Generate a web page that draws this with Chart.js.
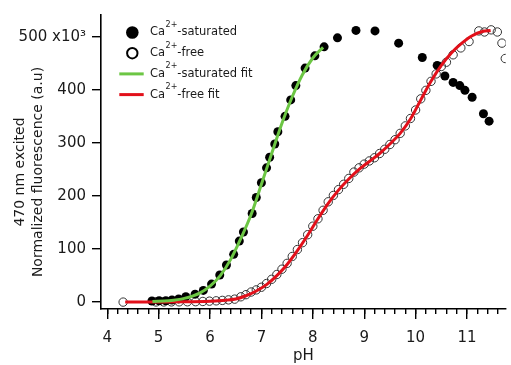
<!DOCTYPE html>
<html><head><meta charset="utf-8">
<script src="https://cdn.jsdelivr.net/npm/chart.js@4"></script>
<style>html,body{margin:0;padding:0;background:#fff;overflow:hidden}#wrap{width:511px;height:365px}</style>
</head><body><div id="wrap"><canvas id="c" width="511" height="365"></canvas></div>
<script>
// ---- data ----
const satPH  = [4.87,5.01,5.14,5.26,5.39,5.53,5.71,5.87,6.03,6.19,6.32,6.46,6.57,6.65,6.82,6.90,7.00,7.10,7.16,7.26,7.32,7.46,7.57,7.67,7.85,8.04,8.22,8.48,8.84,9.21,9.67,10.13,10.42,10.57,10.73,10.86,10.96,11.10,11.32,11.43];
const satVal = [2,2.5,2.5,4,6,10,15,22,34,51,70,90,115,132,167,197,225,253,273,298,321,350,381,408,441,464,481,498,512,511,488,461,446,426,414,408,399,386,355,341];

const freePH  = [4.31,4.95,5.10,5.25,5.40,5.56,5.72,5.86,5.99,6.12,6.24,6.36,6.48,6.60,6.70,6.80,6.90,7.00,7.10,7.20,7.30,7.40,7.50,7.60,7.70,7.80,7.90,8.00,8.10,8.20,8.30,8.40,8.50,8.60,8.70,8.80,8.90,9.00,9.10,9.20,9.30,9.40,9.50,9.60,9.70,9.80,9.90,10.00,10.10,10.20,10.30,10.40,10.50,10.60,10.73,10.88,11.04,11.23,11.34,11.47,11.59,11.68,11.745];
const freeVal = [0,0.3,0.3,0.4,0.5,0.6,0.8,1.2,1.8,2.4,3.2,4.2,5.6,10,14,19,23,28,35,43,52,62,73,86,99,112,127,143,157,173,189,201,212,222,233,245,253,260,266,272,280,288,297,306,318,332,346,362,383,399,416,430,444,452,466,479,491,511,509,513,509,488,459];

const satFitPH  = [4.88,5.2,5.5,5.8,6.0,6.2,6.4,6.6,6.8,7.0,7.2,7.4,7.6,7.8,8.0,8.2];
const satFitVal = [1,2.5,7,17,30,50,80,120,165,222,280,337,387,429,460,480];

const freeFitPH  = [4.35,5.0,5.5,6.0,6.3,6.5,6.7,6.9,7.1,7.3,7.5,7.7,7.9,8.1,8.3,8.5,8.7,8.9,9.1,9.3,9.5,9.7,9.9,10.1,10.3,10.5,10.7,10.9,11.1,11.3,11.46];
const freeFitVal = [0,0.2,0.6,1.8,3.5,6,12,21,33,50,71,97,126,157,186,211,232,250,265,280,298,318,345,381,416,446,470,488,502,510,512];

const xTickLabels = ['4','5','6','7','8','9','10','11'];
const yTickLabels = ['0','100','200','300','400','500 x10³'];
const seriesLabels = [['Ca','2+','-saturated'],['Ca','2+','-free'],['Ca','2+','-saturated fit'],['Ca','2+','-free fit']];
const yTitleLines = ['470 nm excited','Normalized fluorescence (a.u)'];
const xTitle = 'pH';

// ---- chart ----
const FONT = '"DejaVu Sans", "Liberation Sans", sans-serif';
const TXT = '#1a1a1a';
const GREEN = '#6cc644', RED = '#e2101a';
const pts = (xs, ys) => xs.map((x, i) => ({x, y: ys[i]}));

const insetLegend = {
  id: 'insetLegend',
  afterDraw(chart) {
    const ctx = chart.ctx;
    const ds = chart.data.datasets;
    ctx.save();
    ds.forEach((d, i) => {
      const cy = 32.5 + i * 20.7;
      const mx = 132.3;
      if (d.showLine === false) {
        ctx.beginPath();
        ctx.arc(mx, cy, d.legendRadius, 0, Math.PI * 2);
        if (d.legendFill) { ctx.fillStyle = '#000'; ctx.fill(); }
        else { ctx.lineWidth = 2; ctx.strokeStyle = '#000'; ctx.stroke(); }
      } else {
        ctx.beginPath();
        ctx.moveTo(119.3, cy); ctx.lineTo(143.7, cy);
        ctx.lineWidth = 3; ctx.strokeStyle = d.borderColor; ctx.stroke();
      }
      const parts = seriesLabels[i];
      let x = 150;
      ctx.fillStyle = TXT;
      ctx.textBaseline = 'middle'; ctx.textAlign = 'left';
      ctx.font = '11.5px ' + FONT;
      ctx.fillText(parts[0], x, cy); x += ctx.measureText(parts[0]).width;
      ctx.font = '8px ' + FONT;
      ctx.fillText(parts[1], x + 0.5, cy - 7.5); x += ctx.measureText(parts[1]).width + 0.5;
      ctx.font = '11.5px ' + FONT;
      ctx.fillText(parts[2], x, cy);
    });
    // rotated y title
    ctx.font = '14px ' + FONT;
    ctx.textAlign = 'center'; ctx.textBaseline = 'middle';
    [[20, yTitleLines[0]], [38, yTitleLines[1]]].forEach(([tx, t]) => {
      ctx.save(); ctx.translate(tx, 172); ctx.rotate(-Math.PI / 2);
      ctx.fillText(t, 0, 0); ctx.restore();
    });
    ctx.restore();
  }
};

new Chart(document.getElementById('c'), {
  type: 'scatter',
  data: {
    datasets: [
      { label: 'Ca²⁺-saturated', data: pts(satPH, satVal), showLine: false, pointRadius: 4.5,
        pointBackgroundColor: '#000', pointBorderColor: '#000', pointBorderWidth: 0, order: 2,
        legendRadius: 6.3, legendFill: true },
      { label: 'Ca²⁺-free', data: pts(freePH, freeVal), showLine: false, pointRadius: 4.2,
        pointBackgroundColor: 'rgba(0,0,0,0)', pointBorderColor: '#333', pointBorderWidth: 1, order: 3,
        legendRadius: 5.2, legendFill: false },
      { label: 'Ca²⁺-saturated fit', data: pts(satFitPH, satFitVal), showLine: true, pointRadius: 0,
        borderColor: GREEN, borderWidth: 3, cubicInterpolationMode: 'monotone', order: 0 },
      { label: 'Ca²⁺-free fit', data: pts(freeFitPH, freeFitVal), showLine: true, pointRadius: 0,
        borderColor: RED, borderWidth: 3, cubicInterpolationMode: 'monotone', order: 1 }
    ]
  },
  options: {
    responsive: false, animation: false, devicePixelRatio: 1,
    layout: { padding: { top: 13, right: 0, left: 0, bottom: 0 } },
    plugins: { legend: { display: false }, tooltip: { enabled: false } },
    scales: {
      xm: {
        type: 'linear', position: 'bottom', weight: 0, min: 3.879, max: 11.755,
        afterFit: s => { s.height = 0; },
        border: { display: false },
        grid: { drawOnChartArea: false, drawTicks: true, tickLength: 5, color: '#000', lineWidth: 1.4 },
        ticks: { stepSize: 0.2, includeBounds: false, autoSkip: false, callback: () => '' }
      },
      x: {
        type: 'linear', position: 'bottom', weight: 1, min: 3.879, max: 11.755,
        afterFit: s => { s.height = 56; },
        border: { display: true, color: '#000', width: 1.6 },
        grid: { drawOnChartArea: false, drawTicks: true, tickLength: 10, color: '#000', lineWidth: 1.4 },
        ticks: { stepSize: 1, includeBounds: false, autoSkip: false, padding: 10, color: TXT,
          font: { family: FONT, size: 15 },
          callback: v => { const i = xTickLabels.indexOf(String(v)); return i >= 0 ? xTickLabels[i] : ''; } },
        title: { display: true, text: xTitle, color: TXT, font: { family: FONT, size: 15 }, padding: { top: 0, bottom: 0 } }
      },
      y: {
        type: 'linear', position: 'left', min: -13, max: 541,
        afterFit: s => { s.width = 101; },
        border: { display: true, color: '#000', width: 1.6 },
        grid: { drawOnChartArea: false, drawTicks: true, tickLength: 9, color: '#000', lineWidth: 1.4 },
        ticks: { stepSize: 100, includeBounds: false, autoSkip: false, padding: 6, color: TXT,
          font: { family: FONT, size: 15 },
          callback: v => { const i = Math.round(v / 100); return (v % 100 === 0 && i >= 0 && i < yTickLabels.length) ? yTickLabels[i] : ''; } }
      }
    }
  },
  plugins: [insetLegend]
});
</script></body></html>
